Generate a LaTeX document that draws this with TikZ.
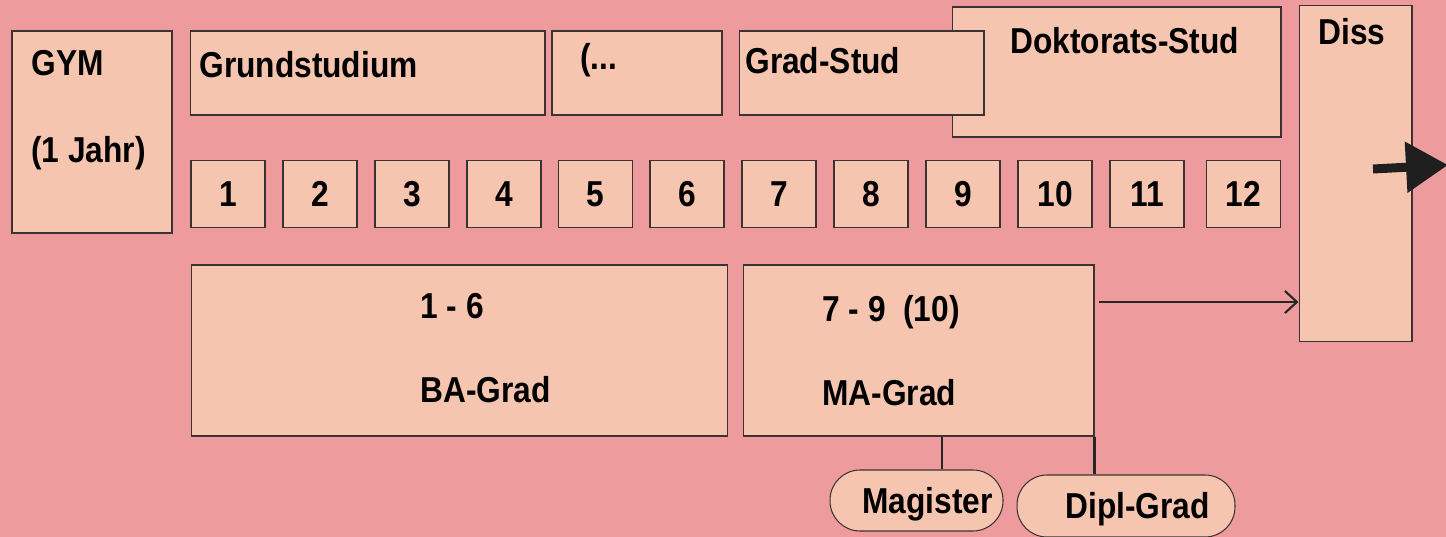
\documentclass[tikz,border=0pt]{standalone}
\usepackage{fontspec}
\setmainfont{Liberation Sans}[FakeStretch=0.88]
\usetikzlibrary{arrows.meta}

\definecolor{bgpink}{RGB}{238,155,158}
\definecolor{boxfill}{RGB}{246,197,176}
\definecolor{boxline}{RGB}{60,50,50}

\tikzset{
  box/.style={draw=boxline, fill=boxfill, line width=0.6pt, inner sep=0pt},
  pill/.style={box, rounded corners=0.6cm},
  txt/.style={anchor=base west, inner sep=0pt},
  link/.style={draw=black!85, line width=1.2pt},
}

\begin{document}
\begin{tikzpicture}[x=0.02cm, y=-0.02cm, font=\bfseries\fontsize{20.5}{24}\selectfont]
% Background
\fill[bgpink] (0,0) rectangle (1446,537);
\useasboundingbox (0,0) rectangle (1446,537);

% Top row
\node[box, minimum width=3.2cm, minimum height=4.04cm] (gym) at (92,132) {};
\node[box, minimum width=7.1cm, minimum height=1.68cm] (grund) at (367.5,73) {};
\node[box, minimum width=3.4cm, minimum height=1.68cm] (dots) at (637,73) {};
\node[box, minimum width=6.58cm, minimum height=2.6cm] (dok) at (1116.5,72) {};
\node[box, minimum width=4.9cm, minimum height=1.68cm] (grad) at (861.5,73) {};
\node[box, minimum width=2.26cm, minimum height=6.74cm] (diss) at (1355.5,173.5) {};

\node[txt] (gymtxt) at (31,76) {GYM};
\node[txt] (jahrtxt) at (31,162) {(1 Jahr)};
\node[txt] (grundtxt) at (199,78) {Grundstudium};
\node[txt] (dotstxt) at (580,70) {(...};
\node[txt] (gradtxt) at (745,73) {Grad-Stud};
\node[txt] (doktxt) at (1010,54) {Doktorats-Stud};
\node[txt] (disstxt) at (1318,45) {Diss};

% Semesters
\foreach \i/\x in {1/228,2/320,3/412,4/504,5/595.5,6/687,7/779,8/871,9/963,10/1055,11/1147,12/1243.5}
  \node[box, minimum width=1.48cm, minimum height=1.34cm] (sem\i) at (\x,194) {\i};

% Degrees
\node[box, minimum width=10.74cm, minimum height=3.42cm] (ba) at (459.5,350.5) {};
\node[box, minimum width=7.02cm, minimum height=3.42cm] (ma) at (918.5,350.5) {};
\node[txt] (batop) at (420,318) {1 - 6};
\node[txt] (batxt) at (420,402) {BA-Grad};
\node[txt] (matop) at (822,321) {7 - 9~~(10)};
\node[txt] (matxt) at (822,405) {MA-Grad};

\node[pill, minimum width=3.46cm, minimum height=1.22cm] (magister) at (916.5,500.5) {};
\node[pill, minimum width=4.36cm, minimum height=1.24cm] (dipl) at (1126,506) {};
\node[txt] (magtxt) at (862,513) {Magister};
\node[txt] (dipltxt) at (1065,518) {Dipl-Grad};

% Connectors
\coordinate (maout) at ([xshift=0.08cm, yshift=0.97cm]ma.east);
\draw[link, -{Straight Barb[length=0.24cm, width=0.44cm]}] (maout) -- (maout -| diss.west);
\coordinate (magtop) at ([xshift=0.51cm]magister.north);
\draw[link] (magtop |- ma.south) -- (magtop);
\draw[link] (ma.south east) -- (ma.south east |- dipl.north);

% Big arrow
\coordinate (gostart) at (1373,169);
\coordinate (goend) at (1448,165);
\draw[line width=0.18cm, draw=black!88, fill=black!88, -{Triangle[length=0.84cm, width=0.98cm]}] (gostart) -- (goend);
\end{tikzpicture}
\end{document}
